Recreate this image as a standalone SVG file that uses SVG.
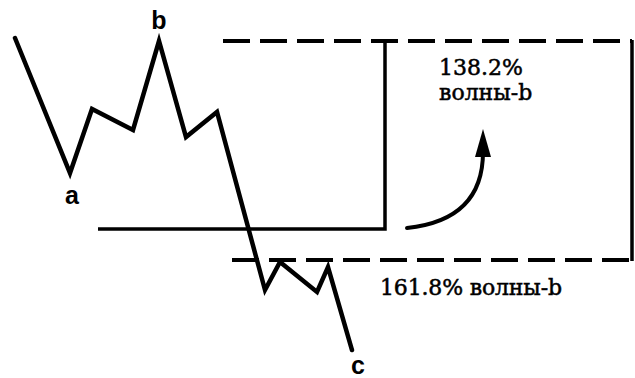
<svg xmlns="http://www.w3.org/2000/svg" width="635" height="378" viewBox="0 0 635 378">
<style>
.wave{fill:none;stroke:#000;stroke-width:4.5;stroke-linejoin:miter;stroke-linecap:round}
.dash{fill:none;stroke:#000;stroke-width:4;stroke-dasharray:27 10}
.solid{fill:none;stroke:#000;stroke-width:3.5}
.lbl{font-family:"Liberation Sans",Arial,sans-serif;font-weight:bold;font-size:25px;fill:#000;text-anchor:middle}
.txt{font-family:"DejaVu Serif","Liberation Serif",serif;font-size:22px;fill:#000;stroke:#000;stroke-width:0.5}
</style>
<g id="connectors">
<polyline class="wave" points="15,38 70,173 92,109 133,130 159,41 186,137 217,112 265,290 280,262 317,292 328,267 352,350"/>
<line class="dash" x1="223" y1="41" x2="632" y2="41"/>
<line class="dash" x1="232" y1="260" x2="632" y2="260"/>
<line class="solid" x1="632" y1="40" x2="632" y2="261"/>
<polyline class="solid" points="98,229 385,229 385,41"/>
<path d="M407,228 Q483,220 483,152" fill="none" stroke="#000" stroke-width="4" stroke-linecap="round"/>
<path d="M483,129 L491,157 L475,157 Z" fill="#000"/>
</g>
<g id="label-a"><text class="lbl" x="72" y="204">a</text></g>
<g id="label-b"><text class="lbl" x="159" y="29">b</text></g>
<g id="label-c"><text class="lbl" x="358" y="374">c</text></g>
<g id="text-138"><text class="txt" x="439" y="75">138.2%</text><text class="txt" x="439" y="100">волны-b</text></g>
<g id="text-161"><text class="txt" x="380" y="295" textLength="182">161.8% волны-b</text></g>
</svg>
